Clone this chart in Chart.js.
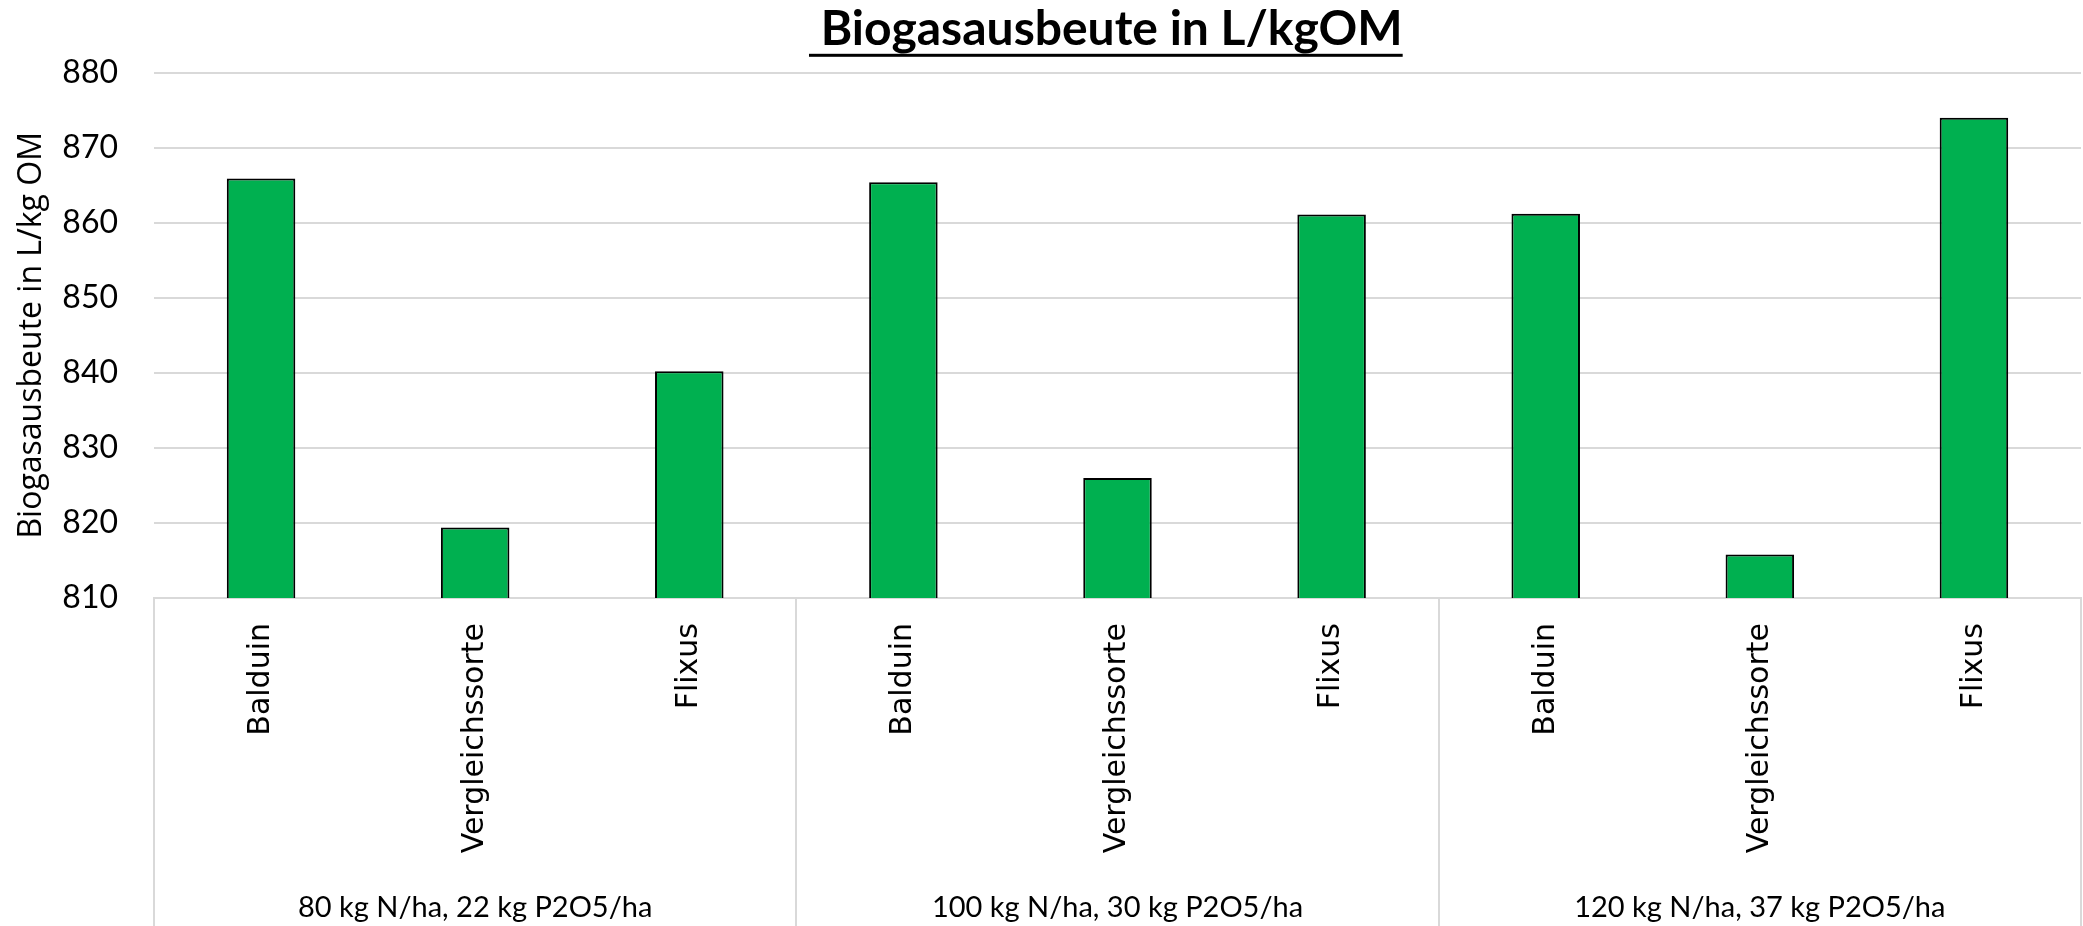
<!DOCTYPE html>
<html>
<head>
<meta charset="utf-8">
<script src="https://cdn.jsdelivr.net/npm/chart.js@4.4.1/dist/chart.umd.min.js"></script>
<style>
  html, body { margin: 0; padding: 0; background: #fff; }
  #wrap { width: 2083px; height: 926px; }
</style>
</head>
<body>
<div id="wrap"><canvas id="chart"></canvas></div>
<script>
// Sorten (untere Achse) und Düngungsstufen (Gruppen)
const sorten = ['Balduin', 'Vergleichssorte', 'Flixus', 'Balduin', 'Vergleichssorte', 'Flixus', 'Balduin', 'Vergleichssorte', 'Flixus'];
const duengung = ['80 kg N/ha, 22 kg P2O5/ha', '100 kg N/ha, 30 kg P2O5/ha', '120 kg N/ha, 37 kg P2O5/ha'];
const biogas = [865.9, 819.4, 840.2, 865.4, 826.0, 861.1, 861.2, 815.8, 874.0];
const yTicks = [810, 820, 830, 840, 850, 860, 870, 880];

// zwei Leerzeichen am Ende schieben den Titel etwas nach links (wie im Original)
const titelText = ' Biogasausbeute in L/kgOM  ';
const titelSize = 48;

// Trennlinien zwischen den Gruppen unter der Achse
const gruppenLinien = {
    id: 'gruppenLinien',
    afterDraw(chart) {
        const x = chart.scales.x;
        const ctx = chart.ctx;
        const n = duengung.length;
        const step = (x.right - x.left) / n;
        ctx.save();
        ctx.strokeStyle = '#d9d9d9';
        ctx.lineWidth = 2;
        for (let i = 0; i <= n; i++) {
            const px = Math.round(x.left + i * step);
            ctx.beginPath();
            ctx.moveTo(px, x.top);
            ctx.lineTo(px, chart.height);
            ctx.stroke();
        }
        ctx.restore();
    }
};

// Unterstreichung des Titels
const titelLinie = {
    id: 'titelLinie',
    afterDraw(chart) {
        const t = chart.titleBlock;
        const ctx = chart.ctx;
        ctx.save();
        ctx.font = 'bold ' + titelSize + 'px Lato';
        const wAll = ctx.measureText(titelText).width;
        const w = ctx.measureText(titelText.trimEnd()).width;
        const cx = (t.left + t.right) / 2;
        const y = t.top + 1 + titelSize * 1.2 / 2 + titelSize * 0.5;
        ctx.fillStyle = '#000';
        ctx.fillRect(cx - wAll / 2, y, w, 3);
        ctx.restore();
    }
};

const ctx = document.getElementById('chart').getContext('2d');
new Chart(ctx, {
    type: 'bar',
    data: {
        labels: sorten,
        datasets: [{
            data: biogas,
            backgroundColor: '#00b050',
            borderColor: '#000000',
            borderWidth: 2,
            categoryPercentage: 1,
            barPercentage: 0.32
        }]
    },
    options: {
        responsive: true,
        maintainAspectRatio: false,
        animation: false,
        devicePixelRatio: 1,
        layout: { padding: { left: 0, right: 2, top: 0, bottom: 0 } },
        plugins: {
            legend: { display: false },
            tooltip: { enabled: false },
            title: {
                display: true,
                text: titelText,
                fullSize: false,
                color: '#000',
                font: { family: 'Lato', size: titelSize, weight: 'bold', lineHeight: 1.2 },
                padding: { top: 1, bottom: 14 }
            }
        },
        scales: {
            y: {
                min: 810,
                max: 880,
                afterBuildTicks: s => { s.ticks = yTicks.map(v => ({ value: v })); },
                afterFit: s => { s.width = 154; },
                border: { display: false },
                grid: { color: '#d9d9d9', lineWidth: 2, drawTicks: false },
                ticks: { color: '#000', padding: 36, font: { family: 'Lato', size: 32 } },
                title: {
                    display: true,
                    text: 'Biogasausbeute in L/kg OM',
                    color: '#000',
                    font: { family: 'Open Sans', size: 32, lineHeight: 1.2 },
                    padding: { top: 13, bottom: 0 }
                }
            },
            x: {
                afterFit: s => { s.height = 275; },
                border: { display: true, color: '#d9d9d9', width: 2 },
                grid: { display: false, drawTicks: false },
                ticks: {
                    color: '#000',
                    padding: 25,
                    maxRotation: 90,
                    minRotation: 90,
                    autoSkip: false,
                    font: { family: 'DejaVu Sans', size: 30 }
                }
            },
            x2: {
                type: 'category',
                position: 'bottom',
                labels: duengung,
                offset: true,
                afterFit: s => { s.height = 53; },
                border: { display: false },
                grid: { display: false, drawTicks: false },
                ticks: { color: '#000', padding: 17, font: { family: 'Lato', size: 29 } }
            }
        }
    },
    plugins: [gruppenLinien, titelLinie]
});
</script>
</body>
</html>
